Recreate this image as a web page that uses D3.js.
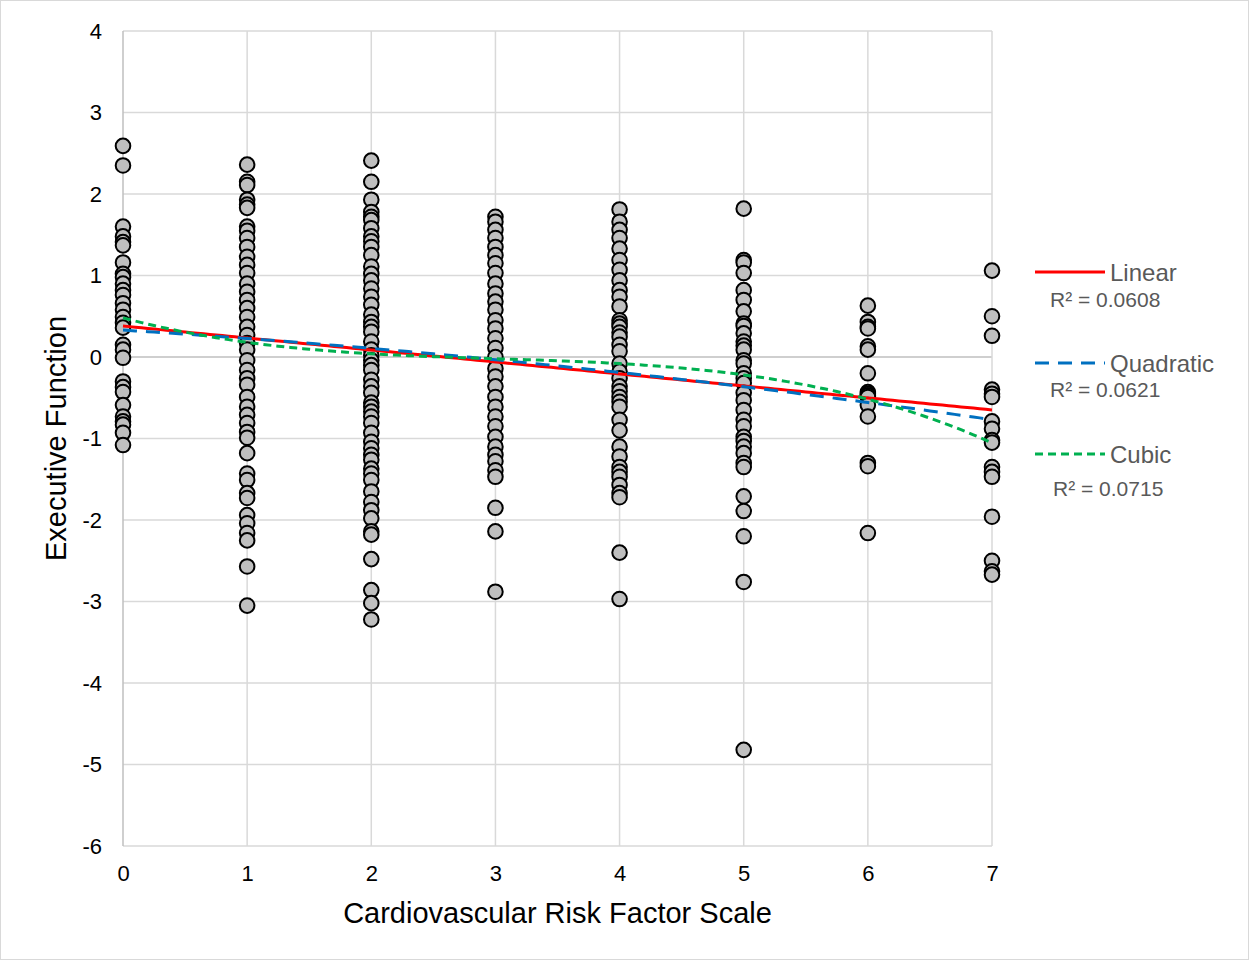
<!DOCTYPE html>
<html>
<head>
<meta charset="utf-8">
<script src="https://cdn.jsdelivr.net/npm/d3@7"></script>
<style>
  html, body { margin: 0; padding: 0; background: #fff; }
  svg { display: block; font-family: "Liberation Sans", Arial, sans-serif; }
</style>
</head>
<body>
<svg id="chart" width="1249" height="960"></svg>
<script>
// Risk-factor score categories (x) and the executive-function scores observed at each
const riskScores = [0, 1, 2, 3, 4, 5, 6, 7];

const scoresAt0 = [2.59, 2.35, 1.60, 1.48, 1.41, 1.37, 1.16, 1.02, 0.98, 0.90, 0.82, 0.76, 0.66, 0.58,
  0.49, 0.42, 0.36, 0.15, 0.09, -0.01, -0.30, -0.37, -0.43, -0.59, -0.73, -0.79, -0.83, -0.93, -1.08];
const scoresAt1 = [2.36, 2.15, 2.11, 1.93, 1.87, 1.83, 1.60, 1.55, 1.46, 1.35, 1.23, 1.13, 1.03, 0.90,
  0.80, 0.70, 0.60, 0.49, 0.37, 0.27, 0.17, 0.09, -0.04, -0.16, -0.26, -0.34, -0.49, -0.61, -0.71,
  -0.81, -0.92, -0.99, -1.18, -1.43, -1.51, -1.67, -1.73, -1.94, -2.04, -2.16, -2.25, -2.57, -3.05];
const scoresAt2 = [2.41, 2.15, 1.93, 1.78, 1.72, 1.68, 1.58, 1.48, 1.42, 1.35, 1.25, 1.11, 1.02, 0.94,
  0.84, 0.74, 0.64, 0.52, 0.43, 0.37, 0.31, 0.19, 0.09, 0.02, -0.04, -0.10, -0.16, -0.28, -0.36,
  -0.44, -0.56, -0.61, -0.67, -0.73, -0.81, -0.93, -1.04, -1.12, -1.20, -1.26, -1.37, -1.43, -1.51,
  -1.65, -1.78, -1.88, -1.98, -2.14, -2.18, -2.48, -2.86, -3.02, -3.22];
const scoresAt3 = [1.72, 1.66, 1.56, 1.46, 1.35, 1.25, 1.15, 1.03, 0.90, 0.78, 0.68, 0.58, 0.45, 0.35,
  0.23, 0.11, 0.00, -0.14, -0.24, -0.36, -0.49, -0.61, -0.73, -0.85, -0.98, -1.10, -1.20, -1.28,
  -1.39, -1.47, -1.85, -2.14, -2.88];
const scoresAt4 = [1.81, 1.66, 1.56, 1.46, 1.33, 1.19, 1.07, 0.94, 0.82, 0.74, 0.62, 0.45, 0.41, 0.37,
  0.30, 0.25, 0.15, 0.07, -0.08, -0.18, -0.26, -0.36, -0.42, -0.49, -0.55, -0.61, -0.77, -0.90,
  -1.10, -1.22, -1.35, -1.41, -1.47, -1.57, -1.67, -1.72, -2.40, -2.97];
const scoresAt5 = [1.82, 1.19, 1.16, 1.03, 0.82, 0.70, 0.56, 0.41, 0.38, 0.29, 0.19, 0.14, 0.09, -0.04,
  -0.08, -0.20, -0.26, -0.32, -0.44, -0.53, -0.65, -0.77, -0.85, -0.98, -1.03, -1.10, -1.18, -1.30,
  -1.35, -1.71, -1.89, -2.20, -2.76, -4.82];
const scoresAt6 = [0.63, 0.43, 0.37, 0.35, 0.13, 0.09, -0.20, -0.43, -0.45, -0.47, -0.49, -0.59, -0.73,
  -1.30, -1.34, -2.16];
const scoresAt7 = [1.06, 0.50, 0.26, -0.40, -0.45, -0.49, -0.79, -0.88, -1.02, -1.05, -1.35, -1.41,
  -1.47, -1.96, -2.50, -2.63, -2.67];

const scoreColumns = [scoresAt0, scoresAt1, scoresAt2, scoresAt3, scoresAt4, scoresAt5, scoresAt6, scoresAt7];

// Trendline polynomial coefficients (constant term first) and their R² values
const trendNames = ["Linear", "Quadratic", "Cubic"];
const linearCoef = [0.38, -0.147];
const quadraticCoef = [0.33, -0.094, -0.009];
const cubicCoef = [0.48, -0.406, 0.1194, -0.01324];
const trendR2 = ["0.0608", "0.0621", "0.0715"];

// Axis ticks
const xTicks = [0, 1, 2, 3, 4, 5, 6, 7];
const yTicks = [4, 3, 2, 1, 0, -1, -2, -3, -4, -5, -6];

const svg = d3.select("#chart");
const W = 1249, H = 960;
const plot = { left: 123, top: 31, right: 992, bottom: 846 };

// chart area border
svg.append("rect")
  .attr("x", 0.5).attr("y", 0.5).attr("width", W - 1).attr("height", H - 1)
  .attr("fill", "#fff").attr("stroke", "#d9d9d9").attr("stroke-width", 1);

const x = d3.scaleLinear().domain([0, 7]).range([plot.left, plot.right]);
const y = d3.scaleLinear().domain([-6, 4]).range([plot.bottom, plot.top]);

// gridlines
const grid = svg.append("g");
grid.selectAll("line.h").data(yTicks).join("line")
  .attr("x1", plot.left).attr("x2", plot.right)
  .attr("y1", d => y(d)).attr("y2", d => y(d))
  .attr("stroke", d => d === 0 ? "#bfbfbf" : "#d9d9d9")
  .attr("stroke-width", 1.5);
grid.selectAll("line.v").data(xTicks).join("line")
  .attr("y1", plot.top).attr("y2", plot.bottom)
  .attr("x1", d => x(d)).attr("x2", d => x(d))
  .attr("stroke", d => d === 0 ? "#bfbfbf" : "#d9d9d9")
  .attr("stroke-width", 1.5);

// tick labels via d3 axes (lines hidden); plain hyphen for negatives
const fmt = d => String(d);
const yAxis = svg.append("g")
  .attr("transform", `translate(${plot.left},0)`)
  .call(d3.axisLeft(y).tickValues(yTicks).tickSize(0).tickPadding(21).tickFormat(fmt));
const xAxis = svg.append("g")
  .attr("transform", `translate(0,${plot.bottom})`)
  .call(d3.axisBottom(x).tickValues(xTicks).tickSize(0).tickPadding(19).tickFormat(fmt));
[yAxis, xAxis].forEach(a => {
  a.select(".domain").remove();
  a.attr("font-size", 22).attr("font-family", "'Liberation Sans', Arial, sans-serif");
  a.selectAll("text")
    .attr("fill", "#000")
    .style("font-size", "22px");
});

// axis titles
svg.append("text")
  .attr("transform", `translate(66,${(plot.top + plot.bottom) / 2}) rotate(-90)`)
  .attr("text-anchor", "middle")
  .style("font-size", "29px").attr("fill", "#000")
  .text("Executive Function");
svg.append("text")
  .attr("x", (plot.left + plot.right) / 2)
  .attr("y", 923)
  .attr("text-anchor", "middle")
  .style("font-size", "29px").attr("fill", "#000")
  .text("Cardiovascular Risk Factor Scale");

// scatter points
const points = [];
riskScores.forEach((r, i) => scoreColumns[i].forEach(v => points.push({ r, v })));
svg.append("g").selectAll("circle").data(points).join("circle")
  .attr("cx", d => x(d.r))
  .attr("cy", d => y(d.v))
  .attr("r", 7.3)
  .attr("fill", "#bfbfbf")
  .attr("stroke", "#000")
  .attr("stroke-width", 2);

// trendlines
const poly = c => t => c.reduce((s, a, k) => s + a * Math.pow(t, k), 0);
const trends = [
  { coef: linearCoef, color: "#ff0000", dash: null },
  { coef: quadraticCoef, color: "#0070c0", dash: "14,9" },
  { coef: cubicCoef, color: "#00b050", dash: "8,5" }
];
const samples = d3.range(0, 7.0001, 0.05);
const line = d3.line().x(d => x(d[0])).y(d => y(d[1]));
trends.forEach(t => {
  const f = poly(t.coef);
  svg.append("path")
    .datum(samples.map(s => [s, f(s)]))
    .attr("d", line)
    .attr("fill", "none")
    .attr("stroke", t.color)
    .attr("stroke-width", 3)
    .attr("stroke-dasharray", t.dash);
});

// legend
const legendY = [272, 363, 454];
const r2X = [1050, 1050, 1053];
const r2Y = [307, 397, 496];
const legend = svg.append("g");
trends.forEach((t, i) => {
  legend.append("line")
    .attr("x1", 1035).attr("x2", 1105)
    .attr("y1", legendY[i]).attr("y2", legendY[i])
    .attr("stroke", t.color).attr("stroke-width", 3)
    .attr("stroke-dasharray", t.dash);
  legend.append("text")
    .attr("x", 1110).attr("y", legendY[i] + 9)
    .style("font-size", "24px").attr("fill", "#595959")
    .text(trendNames[i]);
  legend.append("text")
    .attr("x", r2X[i]).attr("y", r2Y[i])
    .style("font-size", "21px").attr("fill", "#595959")
    .text("R² = " + trendR2[i]);
});
</script>
</body>
</html>
